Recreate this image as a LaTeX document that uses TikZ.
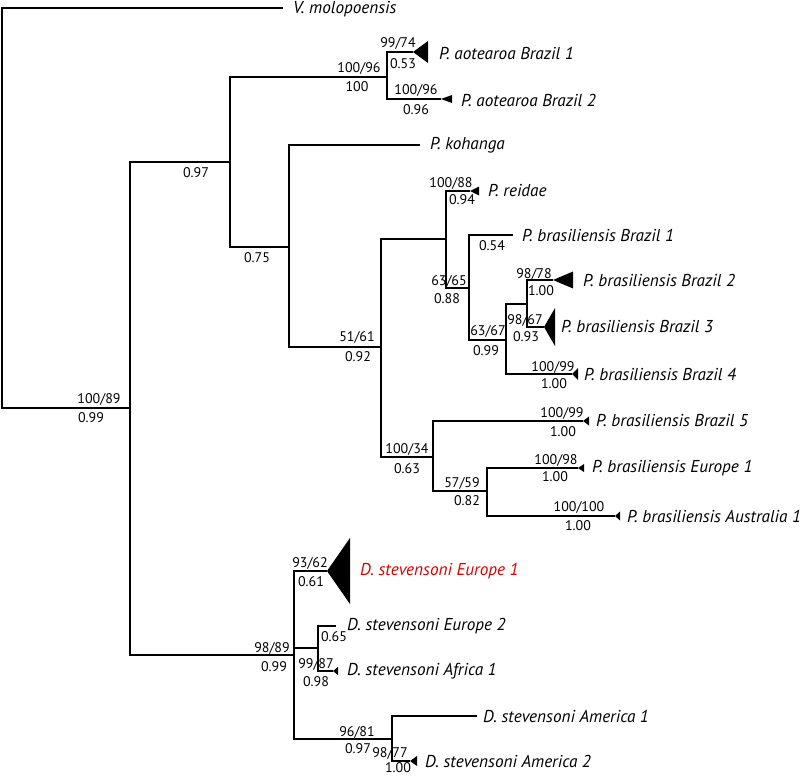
\documentclass[tikz,border=0pt]{standalone}
\usepackage{fontspec}
\setmainfont{PT Sans}
\tikzset{
  taxon/.style={anchor=west,inner sep=0pt,font=\fontsize{17.2}{18}\selectfont\itshape},
  supp/.style={inner sep=0pt,font=\fontsize{14}{15}\selectfont},
  branch/.style={line width=1.8pt}
}
% collapsed clade: apex at #1, half height #2, length #3
\newcommand{\clade}[3]{\fill (#1) -- ++(#3,-#2) -- ++(0,2*#2) -- cycle;}
\begin{document}
\begin{tikzpicture}[x=1pt,y=-1pt]
\useasboundingbox (0,0) rectangle (800,776);
% inner nodes
\coordinate (root) at (2,408);
\coordinate (nA) at (130,408);
\coordinate (nB) at (230,162);
\coordinate (nC) at (387,77);
\coordinate (nD) at (289,247);
\coordinate (nE) at (381,347);
\coordinate (nF) at (446,239);
\coordinate (nG) at (469,288);
\coordinate (nH) at (506,340);
\coordinate (nI) at (527,304);
\coordinate (nJ) at (433,457);
\coordinate (nK) at (487,491);
\coordinate (nL) at (294,655);
\coordinate (nM) at (318,648);
\coordinate (nN) at (392,739);
% tips
\coordinate (tVmol) at (283,8);
\coordinate (tAot1) at (413,52);
\coordinate (tAot2) at (441,99);
\coordinate (tKoh) at (420,145);
\coordinate (tRei) at (470,191);
\coordinate (tBra1) at (513,235);
\coordinate (tBra2) at (553,280);
\coordinate (tBra3) at (544,327);
\coordinate (tBra4) at (572,374);
\coordinate (tBra5) at (583,421);
\coordinate (tBrEu) at (578,468);
\coordinate (tBrAu) at (615,516);
\coordinate (tDEu1) at (327,571);
\coordinate (tDEu2) at (336,626);
\coordinate (tDAf) at (333,671);
\coordinate (tDAm1) at (477,716);
\coordinate (tDAm2) at (410,761);
% branches
\begin{scope}[branch]
\draw (nA) -- (root) |- (tVmol);
\draw (nA) |- (nB); \draw (nA) |- (nL);
\draw (nB) |- (nC); \draw (nB) |- (nD);
\draw (nC) |- (tAot1); \draw (nC) |- (tAot2);
\draw (nD) |- (tKoh); \draw (nD) |- (nE);
\draw (nE) |- (nF); \draw (nE) |- (nJ);
\draw (nF) |- (tRei); \draw (nF) |- (nG);
\draw (nG) |- (tBra1); \draw (nG) |- (nH);
\draw (nH) |- (nI); \draw (nH) |- (tBra4);
\draw (nI) |- (tBra2); \draw (nI) |- (tBra3);
\draw (nJ) |- (tBra5); \draw (nJ) |- (nK);
\draw (nK) |- (tBrEu); \draw (nK) |- (tBrAu);
\draw (nL) |- (tDEu1); \draw (nL) |- (nM); \draw (nL) |- (nN);
\draw (nM) |- (tDEu2); \draw (nM) |- (tDAf);
\draw (nN) |- (tDAm1); \draw (nN) |- (tDAm2);
\end{scope}
% collapsed clades
\clade{tAot1}{11}{15}
\clade{tAot2}{4}{11}
\clade{tRei}{4.5}{9}
\clade{tBra2}{8.5}{20}
\clade{tBra3}{19}{11}
\clade{tBra4}{6}{6}
\clade{tBra5}{4.5}{6}
\clade{tBrEu}{4}{6}
\clade{tBrAu}{4.5}{5}
\clade{tDEu1}{33}{23}
\clade{tDAf}{4}{5}
\clade{tDAm2}{5}{7}
% taxon labels
\node[taxon] (lVmol) at (293,9) {V. molopoensis};
\node[taxon] (lAot1) at (439,53) {P. aotearoa Brazil 1};
\node[taxon] (lAot2) at (461,100) {P. aotearoa Brazil 2};
\node[taxon] (lKoh) at (430,145) {P. kohanga};
\node[taxon] (lRei) at (488,191) {P. reidae};
\node[taxon] (lBra1) at (522,235) {P. brasiliensis Brazil 1};
\node[taxon] (lBra2) at (583,280) {P. brasiliensis Brazil 2};
\node[taxon] (lBra3) at (561,327) {P. brasiliensis Brazil 3};
\node[taxon] (lBra4) at (584,374) {P. brasiliensis Brazil 4};
\node[taxon] (lBra5) at (596,421) {P. brasiliensis Brazil 5};
\node[taxon] (lBrEu) at (592,468) {P. brasiliensis Europe 1};
\node[taxon] (lBrAu) at (627,516) {P. brasiliensis Australia 1};
\node[taxon,text=red!85!black] (lDEu1) at (360,571) {D. stevensoni Europe 1};
\node[taxon] (lDEu2) at (347,626) {D. stevensoni Europe 2};
\node[taxon] (lDAf) at (347,671) {D. stevensoni Africa 1};
\node[taxon] (lDAm1) at (483,716) {D. stevensoni America 1};
\node[taxon] (lDAm2) at (425,761) {D. stevensoni America 2};
% support values
\node[supp] (bA) at (99,399) {100/89};  \node[supp] (pA) at (91,418) {0.99};
\node[supp] (pB) at (196,173) {0.97};
\node[supp] (bC) at (359,68) {100/96};  \node[supp] (pC) at (357,87) {100};
\node[supp] (bAot1) at (398,43) {99/74};  \node[supp] (pAot1) at (403,64) {0.53};
\node[supp] (bAot2) at (416,90) {100/96}; \node[supp] (pAot2) at (416,110) {0.96};
\node[supp] (pD) at (257,258) {0.75};
\node[supp] (bRei) at (451,183) {100/88}; \node[supp] (pRei) at (462,200) {0.94};
\node[supp] (bG) at (449,281) {63/65};  \node[supp] (pG) at (447,299) {0.88};
\node[supp] (pBra1) at (492,246) {0.54};
\node[supp] (bH) at (488,331) {63/67};  \node[supp] (pH) at (486,351) {0.99};
\node[supp] (bBra2) at (534,274) {98/78}; \node[supp] (pBra2) at (541,291) {1.00};
\node[supp] (bBra3) at (525,320) {98/67}; \node[supp] (pBra3) at (526,337) {0.93};
\node[supp] (bBra4) at (553,367) {100/99}; \node[supp] (pBra4) at (554,384) {1.00};
\node[supp] (bE) at (357,337) {51/61};  \node[supp] (pE) at (358,357) {0.92};
\node[supp] (bJ) at (407,449) {100/34}; \node[supp] (pJ) at (407,469) {0.63};
\node[supp] (bBra5) at (562,413) {100/99}; \node[supp] (pBra5) at (563,432) {1.00};
\node[supp] (bK) at (462,483) {57/59};  \node[supp] (pK) at (467,501) {0.82};
\node[supp] (bBrEu) at (556,460) {100/98}; \node[supp] (pBrEu) at (555,477) {1.00};
\node[supp] (bBrAu) at (579,507) {100/100}; \node[supp] (pBrAu) at (578,526) {1.00};
\node[supp] (bDEu1) at (310,563) {93/62}; \node[supp] (pDEu1) at (311,582) {0.61};
\node[supp] (pDEu2) at (334,637) {0.65};
\node[supp] (bL) at (272,648) {98/89};  \node[supp] (pL) at (274,667) {0.99};
\node[supp] (bM) at (316,664) {99/87};  \node[supp] (pM) at (316,682) {0.98};
\node[supp] (bN) at (357,732) {96/81};  \node[supp] (pN) at (358,749) {0.97};
\node[supp] (bDAm2) at (390,753) {98/77}; \node[supp] (pDAm2) at (398,768) {1.00};
\end{tikzpicture}
\end{document}
